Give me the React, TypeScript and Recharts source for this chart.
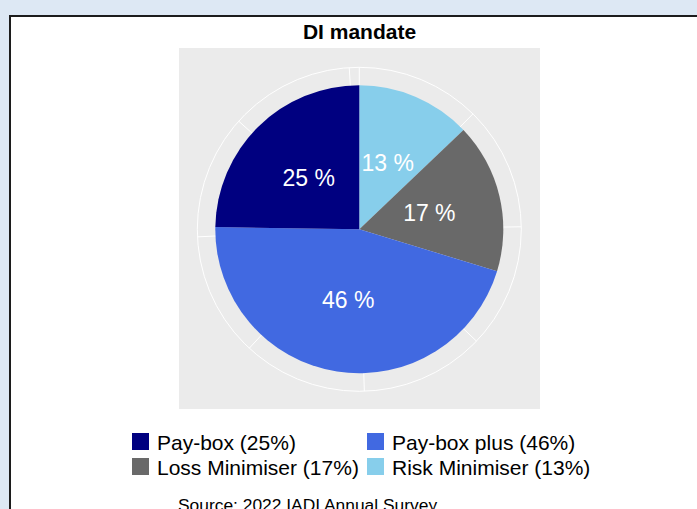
import { PieChart, Pie, Cell, PolarGrid, Legend } from "recharts";

const sliceNames = ["Risk Minimiser", "Loss Minimiser", "Pay-box plus", "Pay-box"];
const sliceValues = [13, 17, 46, 25];
const sliceColors = ["#87ceeb", "#696969", "#4169e1", "#000080"];
const legendOrder = ["Pay-box", "Pay-box plus", "Loss Minimiser", "Risk Minimiser"];
const thetaBreaks = [0, 12.5, 25, 37.5, 50, 62.5, 75, 87.5, 100];

const FONT = "'Liberation Sans', Arial, sans-serif";

const data = sliceNames.map((name, i) => ({
  name,
  value: sliceValues[i],
  fill: sliceColors[i],
}));

const total = sliceValues.reduce((s, v) => s + v, 0);
// ggplot theta runs clockwise from 12 o'clock; recharts angles are ccw from 3 o'clock
const gridAngles = thetaBreaks.map((b) => 90 - (b / total) * 360);

const RADIAN = Math.PI / 180;

function SliceLabel(props: any) {
  const { cx, cy, midAngle, outerRadius, value } = props;
  const r = outerRadius * 0.5;
  const x = cx + r * Math.cos(-midAngle * RADIAN);
  const y = cy + r * Math.sin(-midAngle * RADIAN);
  return (
    <text
      x={x}
      y={y}
      fill="#ffffff"
      textAnchor="middle"
      dominantBaseline="central"
      fontSize={23}
      fontFamily={FONT}
    >
      {`${value} %`}
    </text>
  );
}

function LegendContent() {
  return (
    <div
      style={{
        display: "grid",
        gridTemplateColumns: "235px 235px",
        gridAutoRows: "25px",
        fontFamily: FONT,
        fontSize: 21,
        lineHeight: "24px",
        color: "#000",
      }}
    >
      {legendOrder.map((name) => {
        const i = sliceNames.indexOf(name);
        return (
          <div key={name} style={{ display: "flex", alignItems: "flex-start", whiteSpace: "nowrap" }}>
            <span
              style={{
                display: "inline-block",
                width: 17,
                height: 17,
                marginTop: 2.5,
                marginRight: 8,
                background: sliceColors[i],
              }}
            />
            <span>{`${name} (${sliceValues[i]}%)`}</span>
          </div>
        );
      })}
    </div>
  );
}

export default function App() {
  return (
    <div
      style={{
        position: "fixed",
        left: 0,
        top: 0,
        width: 697,
        height: 509,
        overflow: "hidden",
        background: "#dde8f4",
      }}
    >
      <div
        style={{
          position: "absolute",
          left: 9,
          top: 15,
          width: 720,
          height: 540,
          border: "2px solid #1c1c1c",
          background: "#ffffff",
        }}
      />
      <div
        style={{
          position: "absolute",
          left: 179,
          top: 48,
          width: 361,
          height: 361,
          background: "#ebebeb",
        }}
      />
      <div
        style={{
          position: "absolute",
          left: 0,
          top: 20,
          width: 719,
          textAlign: "center",
          fontFamily: FONT,
          fontWeight: "bold",
          fontSize: 21,
          lineHeight: "24px",
          color: "#000",
        }}
      >
        DI mandate
      </div>
      <div style={{ position: "absolute", left: 0, top: 0 }}>
        <PieChart
          width={697}
          height={509}
          cx={359.3}
          cy={229.3}
          outerRadius={162}
          margin={{ top: 0, right: 0, bottom: 0, left: 0 }}
        >
          <PolarGrid
            gridType="circle"
            polarAngles={gridAngles}
            polarRadius={[162]}
            stroke="#ffffff"
            strokeWidth={1}
          />
          <Pie
            data={data}
            dataKey="value"
            nameKey="name"
            cx={359.3}
            cy={229.3}
            outerRadius={144}
            startAngle={90}
            endAngle={-270}
            stroke="none"
            label={SliceLabel}
            labelLine={false}
            isAnimationActive={false}
          >
            {data.map((d) => (
              <Cell key={d.name} fill={d.fill} />
            ))}
          </Pie>
          <Legend
            content={<LegendContent />}
            wrapperStyle={{ position: "absolute", left: 132, top: 430.75, width: 480 }}
          />
        </PieChart>
      </div>
      <div
        style={{
          position: "absolute",
          left: 178,
          top: 495,
          fontFamily: FONT,
          fontSize: 17.4,
          lineHeight: "20px",
          color: "#000",
          whiteSpace: "nowrap",
        }}
      >
        Source: 2022 IADI Annual Survey
      </div>
    </div>
  );
}
